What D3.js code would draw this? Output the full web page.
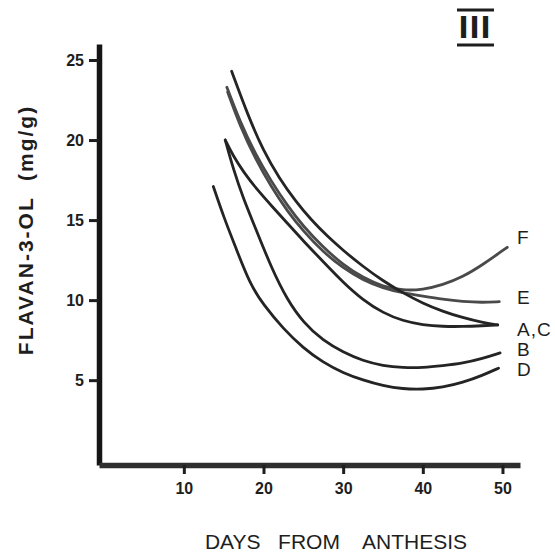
<!DOCTYPE html>
<html>
<head>
<meta charset="utf-8">
<script src="https://cdn.jsdelivr.net/npm/d3@7"></script>
<style>
  body { margin: 0; background: #fff; }
  text { font-family: "Liberation Sans", Arial, sans-serif; fill: #1e1e1e; }
</style>
</head>
<body>
<div id="chart"></div>
<script>
// Datos (dias desde antesis, flavan-3-ol mg/g)
const yTicks = [5, 10, 15, 20, 25]
const xTicks = [10, 20, 30, 40, 50]

const curveF = [[15.4, 23.3], [17, 21.2], [19, 19.1], [21, 17.4], [23, 15.9], [25, 14.6], [27.5, 13.3], [30, 12.2], [32.5, 11.4], [35, 10.85], [37.5, 10.6], [40, 10.65], [42.5, 10.95], [45, 11.45], [47.5, 12.2], [50.6, 13.3]]
const curveE = [[15.5, 23.0], [17, 20.95], [19, 18.8], [21, 17.05], [23, 15.55], [25, 14.3], [27.5, 13.0], [30, 12.0], [32.5, 11.25], [35, 10.75], [37.5, 10.45], [40, 10.25], [42.5, 10.05], [45, 9.9], [47.5, 9.85], [49.6, 9.9]]
const curveA = [[16.0, 24.3], [18, 21.6], [20, 19.3], [22, 17.6], [24, 16.2], [26, 15.0], [28, 14.0], [30, 13.1], [32.5, 12.1], [35, 11.2], [37.5, 10.45], [40, 9.8], [42.5, 9.3], [45, 8.9], [47.5, 8.6], [49.4, 8.45]]
const curveC = [[15.2, 20.0], [16.2, 19.0], [17.5, 18.0], [19.2, 16.9], [21, 15.9], [23, 14.8], [25, 13.7], [27.5, 12.4], [30, 11.1], [32.5, 10.0], [35, 9.2], [37.5, 8.7], [40, 8.45], [42.5, 8.35], [45, 8.35], [47.5, 8.4], [49.4, 8.45]]
const curveB = [[15.2, 20.0], [16.2, 18.2], [17.5, 16.3], [19, 14.5], [21, 12.0], [23, 10.0], [25, 8.6], [27.5, 7.45], [30, 6.75], [32.5, 6.2], [35, 5.9], [37.5, 5.78], [40, 5.78], [42.5, 5.9], [45, 6.05], [47.5, 6.35], [49.7, 6.7]]
const curveD = [[13.7, 17.1], [15, 15.2], [16.5, 13.3], [18.3, 11.0], [20, 9.7], [22.5, 8.2], [25, 7.0], [27.5, 6.1], [30, 5.45], [32.5, 5.0], [35, 4.65], [37.5, 4.45], [40, 4.42], [42.5, 4.55], [45, 4.85], [47.5, 5.3], [49.5, 5.75]]

const seriesLabels = ["F", "E", "A,C", "B", "D"]
const labelValues = [13.9, 10.2, 8.2, 6.9, 5.7]

// Constantes:
const width = 555
const height = 552

const svg = d3.select("#chart").append("svg").attr("width", width).attr("height", height)

// Escalas:
const x = d3.scaleLinear().domain([-0.65, 52.2]).range([99, 520])
const y = d3.scaleLinear().domain([-0.3, 26]).range([465, 44])

// Ejes:
const yAxis = d3.axisLeft(y).tickValues(yTicks).tickSize(10).tickSizeOuter(0).tickPadding(5)
const xAxis = d3.axisBottom(x).tickValues(xTicks).tickSize(9).tickSizeOuter(0).tickPadding(9)

const groupY = svg.append("g").attr("transform", `translate(${x.range()[0]},0)`).call(yAxis)
const groupX = svg.append("g").attr("transform", `translate(0,${y.range()[0]})`).call(xAxis)

groupY.select(".domain").style("stroke", "#151515").style("stroke-width", "5.5px")
groupX.select(".domain").style("stroke", "#2e2e2e").style("stroke-width", "5.5px")
svg.selectAll(".tick line").style("stroke", "#1e1e1e").style("stroke-width", "3px")
svg.selectAll(".tick text").style("font-size", "16px").style("font-weight", "bold").attr("fill", "#1e1e1e")

// Titulos de ejes:
svg.append("text")
    .attr("x", 336).attr("y", 549)
    .attr("text-anchor", "middle")
    .style("font-size", "21px")
    .attr("xml:space", "preserve")
    .text("DAYS   FROM    ANTHESIS")

svg.append("text")
    .attr("transform", "translate(33,230) rotate(-90)")
    .attr("text-anchor", "middle")
    .style("font-size", "21px")
    .style("font-weight", "bold")
    .style("letter-spacing", "2px")
    .attr("xml:space", "preserve")
    .text("FLAVAN-3-OL  (mg/g)")

// Numeral III:
svg.append("text")
    .attr("x", 475).attr("y", 38)
    .attr("text-anchor", "middle")
    .style("font-size", "30px")
    .style("font-weight", "bold")
    .style("font-family", "'DejaVu Sans Condensed', 'DejaVu Sans', sans-serif")
    .style("letter-spacing", "1px")
    .text("III")
svg.append("line").attr("x1", 457).attr("x2", 494).attr("y1", 10).attr("y2", 10).attr("stroke", "#1e1e1e").attr("stroke-width", 3)
svg.append("line").attr("x1", 457).attr("x2", 494).attr("y1", 45).attr("y2", 45).attr("stroke", "#1e1e1e").attr("stroke-width", 3)

// Curvas:
const line = d3.line().x(d => x(d[0])).y(d => y(d[1])).curve(d3.curveBasis)

const curves = [
    { id: "F", data: curveF, color: "#4a4a4a" },
    { id: "E", data: curveE, color: "#4a4a4a" },
    { id: "A", data: curveA, color: "#242424" },
    { id: "C", data: curveC, color: "#242424" },
    { id: "B", data: curveB, color: "#242424" },
    { id: "D", data: curveD, color: "#242424" }
]

svg.append("g").selectAll("path").data(curves).enter().append("path")
    .attr("id", d => d.id)
    .attr("d", d => line(d.data))
    .attr("fill", "none")
    .attr("stroke", d => d.color)
    .attr("stroke-width", 2.8)
    .attr("stroke-linecap", "round")

// Etiquetas de las curvas:
svg.append("g").selectAll("text").data(seriesLabels).enter().append("text")
    .attr("x", 517)
    .attr("y", (d, i) => y(labelValues[i]))
    .attr("dy", "0.35em")
    .style("font-size", "19px")
    .style("letter-spacing", "1px")
    .text(d => d)
</script>
</body>
</html>
